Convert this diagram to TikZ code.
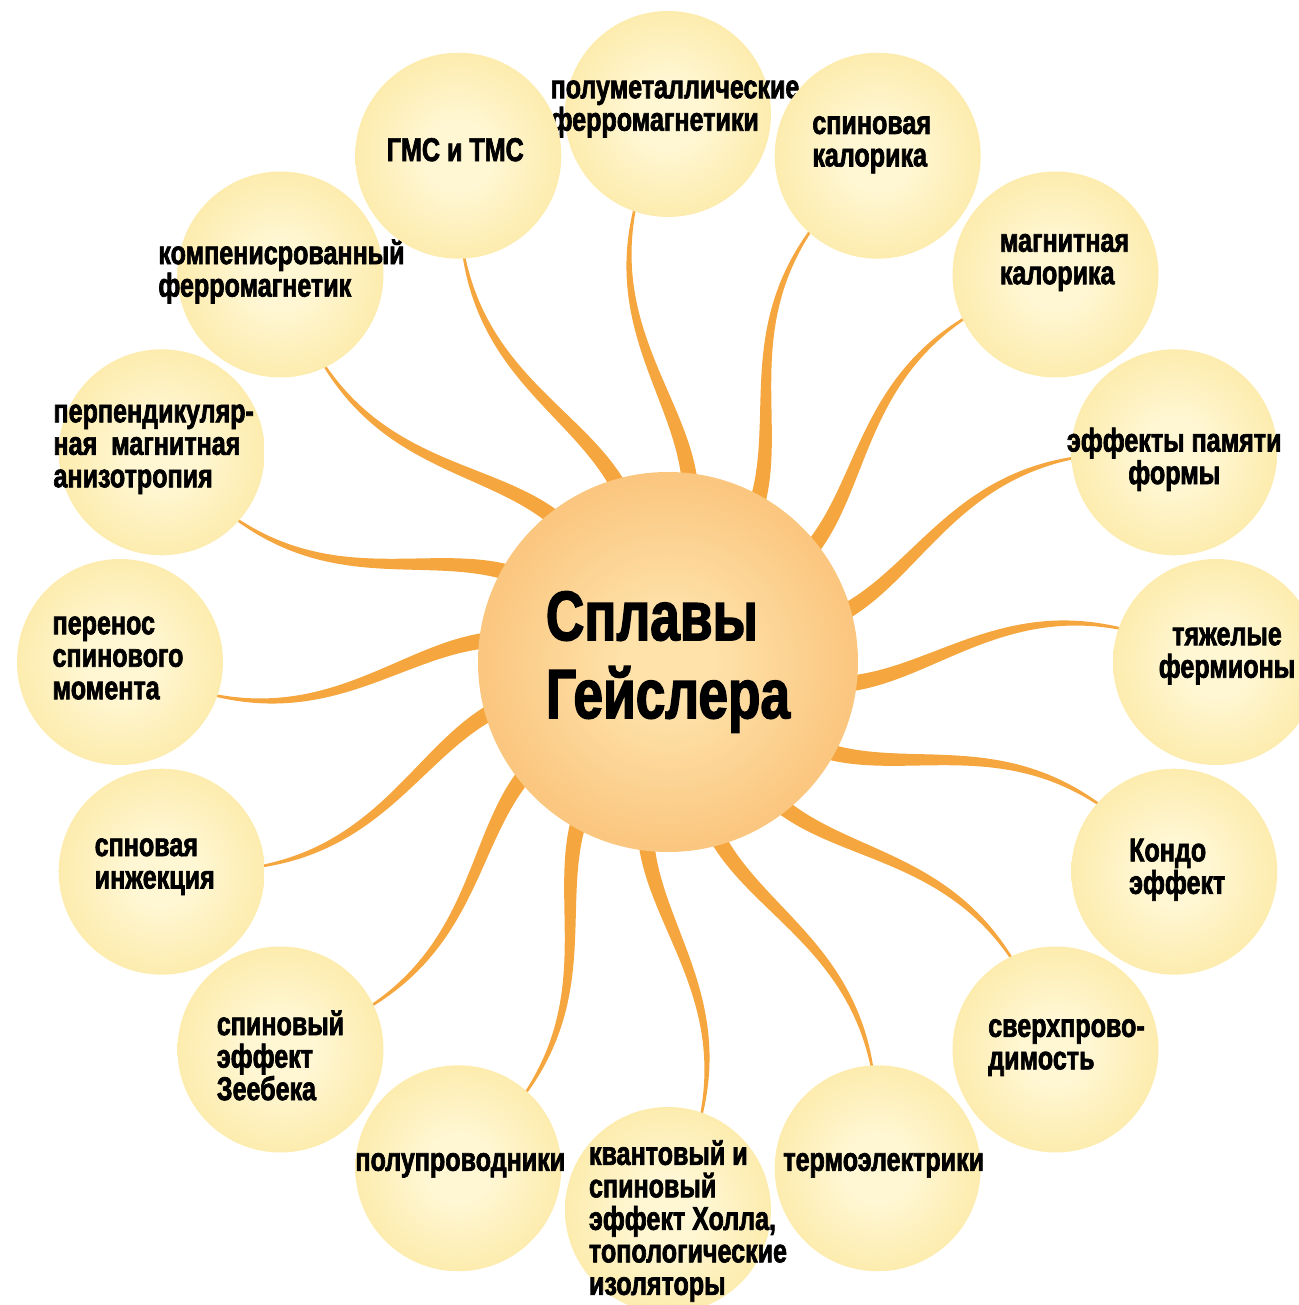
\documentclass[tikz,border=0pt]{standalone}
\usepackage{fontspec}
\usepackage{tikz}
\usetikzlibrary{calc,backgrounds}
\newfontfamily\heavyfont{Liberation Sans}[FakeStretch=0.76, BoldFeatures={FakeBold=2}]
\definecolor{bubblein}{RGB}{255,247,212}
\definecolor{bubbleout}{RGB}{250,220,118}
\definecolor{hubin}{RGB}{254,226,170}
\definecolor{hubout}{RGB}{246,160,68}
\definecolor{raycol}{RGB}{245,166,62}
\pgfdeclareradialshading{bubbleshade}{\pgfpoint{0bp}{0bp}}{color(0bp)=(bubblein); color(8bp)=(bubblein); color(50bp)=(bubbleout); color(51bp)=(bubbleout)}
\pgfdeclareradialshading{hubshade}{\pgfpoint{0bp}{0bp}}{color(0bp)=(hubin); color(6bp)=(hubin); color(50bp)=(hubout); color(51bp)=(hubout)}

\begin{document}
\begin{tikzpicture}[x=1pt, y=1pt]
        \tikzstyle{hub}=[circle, minimum size=380pt, inner sep=0pt, shade, shading=hubshade, font=\heavyfont\bfseries\fontsize{70}{78}\selectfont];
        \tikzstyle{bubble}=[circle, minimum size=206pt, inner sep=0pt, shade, shading=bubbleshade];
        \tikzstyle{bubbletext}=[inner sep=0pt, font=\heavyfont\bfseries\fontsize{33}{32.5}\selectfont];
        \tikzstyle{ray}=[fill=raycol];

        \useasboundingbox (-668,-643) rectangle (630,662);

        % centre
        \node[hub, align=left] (hub) at (0,0) {Сплавы\\Гейслера};
        % bubbles round the centre, clockwise from the top
        \foreach \a/\dx/\dy/\al/\txt [count=\i] in {
            90/7/5/left/{полуметаллические\\ферромагнетики},
            67.5/-6/11/left/{спиновая\\калорика},
            45/9/12/left/{магнитная\\калорика},
            22.5/0/-7/center/{эффекты памяти\\формы},
            0/11/6/center/{тяжелые\\фермионы},
            -22.5/3/2/left/{Кондо\\эффект},
            -45/11/2/left/{сверхпрово-\\димость},
            -67.5/6/3/left/{термоэлектрики},
            -90/20/-11/left/{квантовый и\\спиновый\\эффект Холла,\\топологические\\изоляторы},
            -112.5/2/3/left/{полупроводники},
            -135/0/-6/left/{спиновый\\эффект\\Зеебека},
            -157.5/-7/5/left/{спновая\\инжекция},
            180/-2/4/left/{перенос\\спинового\\момента},
            157.5/-8/3/left/{перпендикуляр-\\ная~~магнитная\\анизотропия},
            135/1/3/left/{компенисрованный\\ферромагнетик},
            112.5/-3/6/left/{ГМС и ТМС}}
        {
            \node[bubble] (b-\i) at (\a:548) {};
            \node[bubbletext, align=\al] (t-\i) at ($(b-\i)+(\dx,\dy)$) {\txt};
        }
        % rays from the centre to every bubble, behind the circles
        \begin{scope}[on background layer]
            \foreach \i in {1,...,16}
                \fill[ray] ($(hub)!0.322!-4.6:(b-\i)$) .. controls ($(hub)!0.477!-1.8:(b-\i)$) and ($(hub)!0.617!11:(b-\i)$) .. ($(hub)!0.832!4.3:(b-\i)$)
                    -- ($(hub)!0.831!4:(b-\i)$) .. controls ($(hub)!0.614!9.6:(b-\i)$) and ($(hub)!0.479!-4.8:(b-\i)$) .. ($(hub)!0.326!-9.7:(b-\i)$) -- cycle;
        \end{scope}
\end{tikzpicture}
\end{document}
